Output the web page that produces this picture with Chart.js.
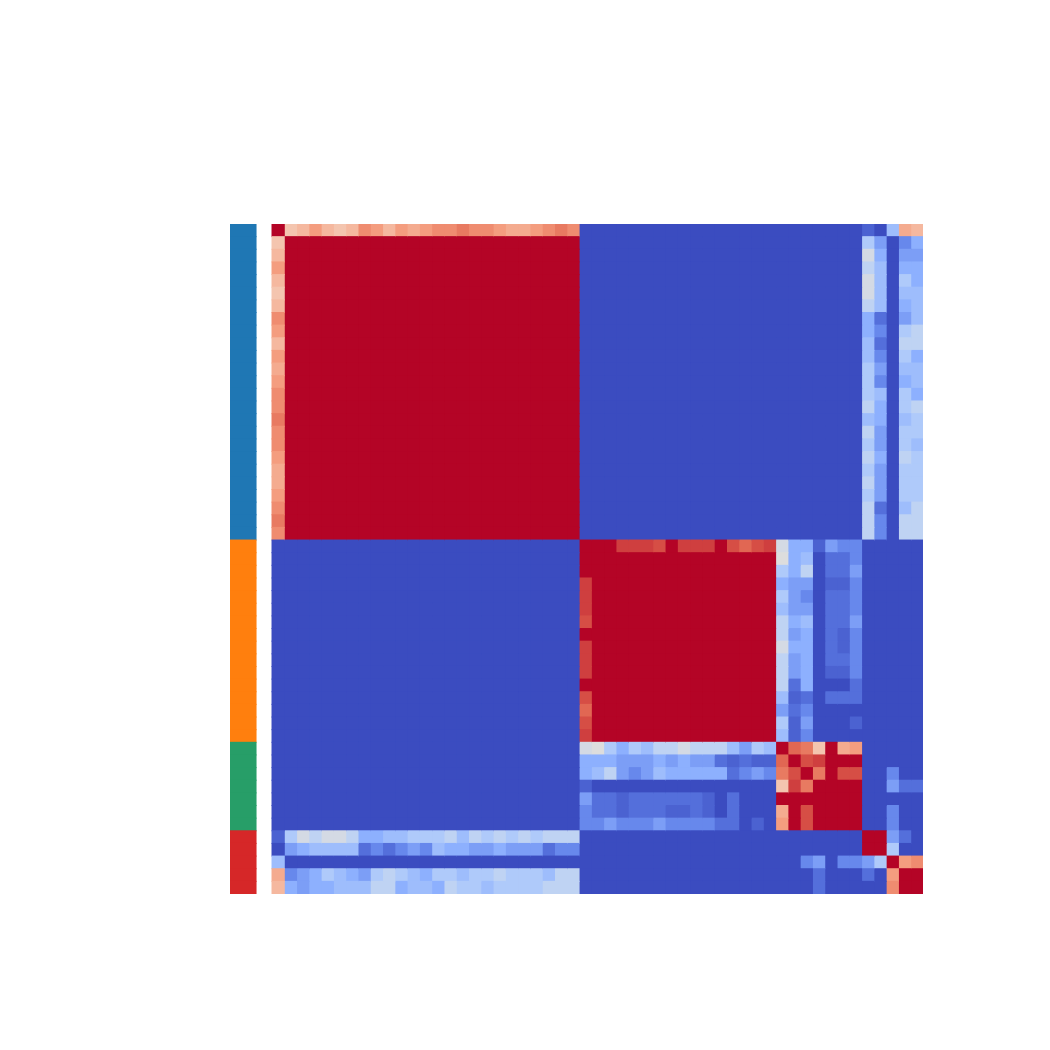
<!DOCTYPE html>
<html>
<head>
<meta charset="utf-8">
<script src="https://cdn.jsdelivr.net/npm/chart.js@4.4.1/dist/chart.umd.min.js"></script>
<style>
  html, body { margin: 0; padding: 0; background: #fff; }
</style>
</head>
<body>
<canvas id="chart" width="1050" height="1050"></canvas>
<script>
// one letter per cell -> value on the colour scale (-1 blue .. 1 red)
const levelCodes  = ['B', 'C', 'D', 'E', 'F', 'G', 'H', 'I', 'J', 'K', 'L', 'm', 'n', 'o', 'p', 'q', 'r', 's', 't', 'u', 'R'];
const levelValues = [-1, -0.9, -0.84, -0.72, -0.6, -0.5, -0.4, -0.3, -0.2, -0.06, 0, 0.24, 0.32, 0.4, 0.48, 0.56, 0.64, 0.72, 0.8, 0.84, 1];

// cluster sizes (rows top to bottom) and the side bar colours
const groupSizes  = [25, 16, 7, 5];
const groupColors = ['#1f77b4', '#ff7f0e', '#279e68', '#d62728'];

// 53 x 53 matrix, one string per row; '|' and ' ' are only for reading
const matrixRows = [
  'R|mnpnmnqp npopqqrq qpoopqrq|BBBBBBBB BBBBBBBB|BBBBBBB|CBHon',
  'm|RRRRRRRR RRRRRRRR RRRRRRRR|BBBBBBBB BBBBBBBB|BBBBBBB|IFBEG',
  'n|RRRRRRRR RRRRRRRR RRRRRRRR|BBBBBBBB BBBBBBBB|BBBBBBB|KGBFF',
  'p|RRRRRRRR RRRRRRRR RRRRRRRR|BBBBBBBB BBBBBBBB|BBBBBBB|JHBGG',
  'n|RRRRRRRR RRRRRRRR RRRRRRRR|BBBBBBBB BBBBBBBB|BBBBBBB|KHBIG',
  'm|RRRRRRRR RRRRRRRR RRRRRRRR|BBBBBBBB BBBBBBBB|BBBBBBB|KHBHH',
  'n|RRRRRRRR RRRRRRRR RRRRRRRR|BBBBBBBB BBBBBBBB|BBBBBBB|JHBGH',
  'q|RRRRRRRR RRRRRRRR RRRRRRRR|BBBBBBBB BBBBBBBB|BBBBBBB|GDBFH',
  'p|RRRRRRRR RRRRRRRR RRRRRRRR|BBBBBBBB BBBBBBBB|BBBBBBB|GEBIJ',
  'n|RRRRRRRR RRRRRRRR RRRRRRRR|BBBBBBBB BBBBBBBB|BBBBBBB|HDBJJ',
  'p|RRRRRRRR RRRRRRRR RRRRRRRR|BBBBBBBB BBBBBBBB|BBBBBBB|HEBIG',
  'o|RRRRRRRR RRRRRRRR RRRRRRRR|BBBBBBBB BBBBBBBB|BBBBBBB|IFBHH',
  'p|RRRRRRRR RRRRRRRR RRRRRRRR|BBBBBBBB BBBBBBBB|BBBBBBB|IEBGH',
  'q|RRRRRRRR RRRRRRRR RRRRRRRR|BBBBBBBB BBBBBBBB|BBBBBBB|IHBIG',
  'q|RRRRRRRR RRRRRRRR RRRRRRRR|BBBBBBBB BBBBBBBB|BBBBBBB|JGBIJ',
  'r|RRRRRRRR RRRRRRRR RRRRRRRR|BBBBBBBB BBBBBBBB|BBBBBBB|HGBHI',
  'q|RRRRRRRR RRRRRRRR RRRRRRRR|BBBBBBBB BBBBBBBB|BBBBBBB|JFBII',
  'q|RRRRRRRR RRRRRRRR RRRRRRRR|BBBBBBBB BBBBBBBB|BBBBBBB|IFBIH',
  'p|RRRRRRRR RRRRRRRR RRRRRRRR|BBBBBBBB BBBBBBBB|BBBBBBB|JGBJI',
  'o|RRRRRRRR RRRRRRRR RRRRRRRR|BBBBBBBB BBBBBBBB|BBBBBBB|IFBII',
  'o|RRRRRRRR RRRRRRRR RRRRRRRR|BBBBBBBB BBBBBBBB|BBBBBBB|JFBII',
  'p|RRRRRRRR RRRRRRRR RRRRRRRR|BBBBBBBB BBBBBBBB|BBBBBBB|IFBII',
  'q|RRRRRRRR RRRRRRRR RRRRRRRR|BBBBBBBB BBBBBBBB|BBBBBBB|JDBHJ',
  'r|RRRRRRRR RRRRRRRR RRRRRRRR|BBBBBBBB BBBBBBBB|BBBBBBB|JEBJJ',
  'q|RRRRRRRR RRRRRRRR RRRRRRRR|BBBBBBBB BBBBBBBB|BBBBBBB|JEBJJ',
  'B|BBBBBBBB BBBBBBBB BBBBBBBB|RRRuuutR uuuRtstu|KGGCFEE|BBBBB',
  'B|BBBBBBBB BBBBBBBB BBBBBBBB|RRRRRRRR RRRRRRRR|LGHBDDE|BBBBB',
  'B|BBBBBBBB BBBBBBBB BBBBBBBB|RRRRRRRR RRRRRRRR|IGJBDDF|BBBBB',
  'B|BBBBBBBB BBBBBBBB BBBBBBBB|uRRRRRRR RRRRRRRR|GFFBCCE|BBBBB',
  'B|BBBBBBBB BBBBBBBB BBBBBBBB|uRRRRRRR RRRRRRRR|IFEBDDE|BBBBB',
  'B|BBBBBBBB BBBBBBBB BBBBBBBB|uRRRRRRR RRRRRRRR|HFFBDDE|BBBBB',
  'B|BBBBBBBB BBBBBBBB BBBBBBBB|tRRRRRRR RRRRRRRR|JGHBDDF|BBBBB',
  'B|BBBBBBBB BBBBBBBB BBBBBBBB|RRRRRRRR RRRRRRRR|JFGBDCE|BBBBB',
  'B|BBBBBBBB BBBBBBBB BBBBBBBB|uRRRRRRR RRRRRRRR|KGGBDCE|BBBBB',
  'B|BBBBBBBB BBBBBBBB BBBBBBBB|uRRRRRRR RRRRRRRR|JFGBDDE|BBBBB',
  'B|BBBBBBBB BBBBBBBB BBBBBBBB|uRRRRRRR RRRRRRRR|JFGBCCE|BBBBB',
  'B|BBBBBBBB BBBBBBBB BBBBBBBB|RRRRRRRR RRRRRRRR|JDGBBBD|BBBBB',
  'B|BBBBBBBB BBBBBBBB BBBBBBBB|tRRRRRRR RRRRRRRR|HCDBDDD|BBBBB',
  'B|BBBBBBBB BBBBBBBB BBBBBBBB|sRRRRRRR RRRRRRRR|FDEBBBB|BBBBB',
  'B|BBBBBBBB BBBBBBBB BBBBBBBB|tRRRRRRR RRRRRRRR|ICFBBBC|BBBBB',
  'B|BBBBBBBB BBBBBBBB BBBBBBBB|uRRRRRRR RRRRRRRR|HCEBBBB|BBBBB',
  'B|BBBBBBBB BBBBBBBB BBBBBBBB|KLIGIHJJ KJJJHFIH|RsrmRop|BBBBB',
  'B|BBBBBBBB BBBBBBBB BBBBBBBB|GGGFFFGF GFFDCDCC|sRtuRRR|BBBBB',
  'B|BBBBBBBB BBBBBBBB BBBBBBBB|GHJFEFHG GGGGDEFE|rtRrRtt|BBEBB',
  'B|BBBBBBBB BBBBBBBB BBBBBBBB|CBBBBBBB BBBBBBBB|murRRRR|BBFDD',
  'B|BBBBBBBB BBBBBBBB BBBBBBBB|FDDCDDDD DDCBDBBB|RRRRRRR|BBBBB',
  'B|BBBBBBBB BBBBBBBB BBBBBBBB|EDDCDDDC CDCBDBBB|oRtRRRR|BBEBB',
  'B|BBBBBBBB BBBBBBBB BBBBBBBB|EEFEEEFE EEEDDBCB|pRtRRRR|BBEBB',
  'C|IKJKKJGG HHIIIJHJ IJIJIJJJ|BBBBBBBB BBBBBBBB|BBBBBBB|RRFDB',
  'B|FGHHHHDE DEFEHGGF FGFFFDEE|BBBBBBBB BBBBBBBB|BBBBBBB|RRIBB',
  'H|BBBBBBBB BBBBBBBB BBBBBBBB|BBBBBBBB BBBBBBBB|BBEFBEE|FIRpq',
  'o|EFGIHGFI JIHGIIHI IJIIIHJJ|BBBBBBBB BBBBBBBB|BBBDBBB|DBpRR',
  'n|GFGGHHHJ JGHHGJII HIIIIJJJ|BBBBBBBB BBBBBBBB|BBBDBBB|BBqRR'
];

// coolwarm anchors
const cwStops = [
  [59, 76, 192], [98, 130, 234], [141, 176, 254], [184, 208, 249], [221, 221, 221],
  [245, 196, 173], [244, 154, 123], [222, 96, 77], [180, 4, 38]
];
function coolwarm(v) {
  const t = Math.max(0, Math.min(1, (v + 1) / 2)) * (cwStops.length - 1);
  const i = Math.min(cwStops.length - 2, Math.floor(t));
  const f = t - i;
  const a = cwStops[i], b = cwStops[i + 1];
  const c = a.map((x, k) => Math.round(x + (b[k] - x) * f));
  return `rgb(${c[0]},${c[1]},${c[2]})`;
}

const matrix = matrixRows.map(r => r.replace(/[ |]/g, '').split('').map(ch => levelValues[levelCodes.indexOf(ch)]));
const n = matrix.length;
matrix.forEach((r, i) => { if (r.length !== n) console.warn('row', i, 'has', r.length); });

const rowGroup = [];
groupSizes.forEach((s, g) => { for (let k = 0; k < s; k++) rowGroup.push(g); });

// side bar sits left of the heatmap, in column units
const sideFrom = -3.42, sideTo = -1.30;

const datasets = [];
for (let j = 0; j < n; j++) {
  datasets.push({
    data: matrix.map(() => [j, j + 1]),
    backgroundColor: matrix.map(row => coolwarm(row[j]))
  });
}
datasets.push({
  data: matrix.map(() => [sideFrom, sideTo]),
  backgroundColor: rowGroup.map(g => groupColors[g])
});

new Chart(document.getElementById('chart').getContext('2d'), {
  type: 'bar',
  data: { labels: matrix.map((_, i) => String(i)), datasets },
  options: {
    indexAxis: 'y',
    responsive: false,
    animation: false,
    layout: { padding: { left: 230, right: 127, top: 224, bottom: 156 } },
    datasets: {
      bar: {
        grouped: false,
        barPercentage: 1,
        categoryPercentage: 1,
        borderWidth: 0,
        inflateAmount: 0.5
      }
    },
    scales: {
      x: { type: 'linear', min: sideFrom, max: n, display: false },
      y: { display: false }
    },
    plugins: { legend: { display: false }, tooltip: { enabled: false } }
  }
});
</script>
</body>
</html>
